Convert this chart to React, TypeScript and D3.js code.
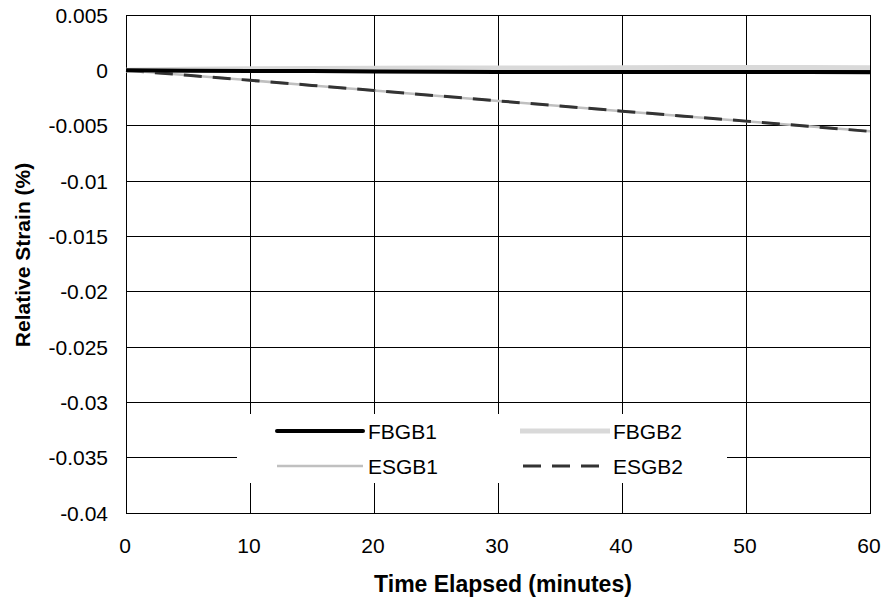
import * as d3 from "d3";
import { useEffect, useRef } from "react";

const minutes = [0, 5, 10, 15, 20, 25, 30, 35, 40, 45, 50, 55, 60];
const fbgb1 = [0, -0.00003, -0.00005, -0.00007, -0.0001, -0.00012, -0.00015, -0.00014, -0.00014, -0.00015, -0.00015, -0.00016, -0.00018];
const fbgb2 = [0, 0.0001, 0.00014, 0.00016, 0.00018, 0.0002, 0.00022, 0.00022, 0.00024, 0.00025, 0.00025, 0.00025, 0.00024];
const esgb1 = [0, -0.00045, -0.0009, -0.00137, -0.00183, -0.0023, -0.00277, -0.00323, -0.0037, -0.00415, -0.0046, -0.00505, -0.0055];
const esgb2 = [0, -0.00045, -0.0009, -0.00136, -0.00182, -0.00229, -0.00276, -0.00322, -0.00369, -0.00414, -0.00459, -0.00505, -0.00552];
const xTicks = [0, 10, 20, 30, 40, 50, 60];
const yTicks = [0.005, 0, -0.005, -0.01, -0.015, -0.02, -0.025, -0.03, -0.035, -0.04];

const series = [
  { name: "FBGB1", values: fbgb1, color: "#000000", width: 4, dash: null },
  { name: "FBGB2", values: fbgb2, color: "#d9d9d9", width: 5, dash: null },
  { name: "ESGB1", values: esgb1, color: "#c0c0c0", width: 2.5, dash: null },
  { name: "ESGB2", values: esgb2, color: "#333333", width: 3, dash: "18,11" },
];

function drawChart(container: HTMLElement) {
  const width = 888;
  const height = 602;
  const left = 126, right = 870, top = 15, bottom = 513;
  const font = "Liberation Sans, Arial, sans-serif";

  const svg = d3.select(container)
    .append("svg")
    .attr("width", width)
    .attr("height", height)
    .attr("style", "position:absolute;left:0;top:0;background:#fff")
    .attr("font-family", font);

  const x = d3.scaleLinear([0, 60], [left, right]);
  const y = d3.scaleLinear([-0.04, 0.005], [bottom, top]);

  // grid
  const grid = svg.append("g").attr("stroke", "#000").attr("stroke-width", 1).attr("shape-rendering", "crispEdges");
  grid.selectAll(".h").data(yTicks).join("line")
    .attr("x1", left).attr("x2", right)
    .attr("y1", d => y(d)).attr("y2", d => y(d));
  grid.selectAll(".v").data(xTicks).join("line")
    .attr("x1", d => x(d)).attr("x2", d => x(d))
    .attr("y1", top).attr("y2", bottom);

  // legend box covers the grid
  const legend = svg.append("g");
  legend.append("rect").attr("x", 237).attr("y", 414).attr("width", 490).attr("height", 69).attr("fill", "#fff");
  const legendPos = [
    { lx: 277, w: 86, tx: 368, ly: 431 },
    { lx: 520, w: 90, tx: 613, ly: 431 },
    { lx: 277, w: 86, tx: 368, ly: 466 },
    { lx: 523, w: 80, tx: 613, ly: 466 },
  ];
  series.forEach((s, i) => {
    const p = legendPos[i];
    legend.append("line")
      .attr("x1", p.lx).attr("x2", p.lx + p.w)
      .attr("y1", p.ly).attr("y2", p.ly)
      .attr("stroke", s.color).attr("stroke-width", s.width)
      .attr("stroke-linecap", i === 0 ? "round" : "butt")
      .attr("stroke-dasharray", s.dash);
    legend.append("text")
      .attr("x", p.tx).attr("y", p.ly + 8)
      .attr("font-size", 21).text(s.name);
  });

  // frame
  svg.append("rect").attr("x", left).attr("y", top)
    .attr("width", right - left).attr("height", bottom - top)
    .attr("fill", "none").attr("stroke", "#000").attr("shape-rendering", "crispEdges");

  // lines
  const line = d3.line<number>().x((_, i) => x(minutes[i])).y(d => y(d));
  const order = [2, 3, 1, 0];
  order.forEach(i => {
    const s = series[i];
    svg.append("path")
      .attr("d", line(s.values))
      .attr("fill", "none")
      .attr("stroke", s.color)
      .attr("stroke-width", s.width)
      .attr("stroke-dasharray", s.dash);
  });

  // tick labels
  svg.append("g").selectAll("text").data(yTicks).join("text")
    .attr("x", 108).attr("y", d => y(d) + 7.5)
    .attr("text-anchor", "end").attr("font-size", 21)
    .text(d => (d === 0 ? "0" : String(d)));
  svg.append("g").selectAll("text").data(xTicks).join("text")
    .attr("x", d => x(d) - 1).attr("y", bottom + 40)
    .attr("text-anchor", "middle").attr("font-size", 21)
    .text(d => String(d));

  // axis titles
  svg.append("text")
    .attr("x", 503).attr("y", 592)
    .attr("text-anchor", "middle").attr("font-size", 23).attr("font-weight", "bold")
    .text("Time Elapsed (minutes)");
  svg.append("text")
    .attr("transform", `translate(30, 255) rotate(-90)`)
    .attr("text-anchor", "middle").attr("font-size", 21).attr("font-weight", "bold")
    .text("Relative Strain (%)");
}

export default function App() {
  const domRef = useRef<HTMLDivElement>(null);
  useEffect(() => {
    if (domRef.current) {
      drawChart(domRef.current);
    }
    return () => {
      if (domRef.current) {
        d3.select(domRef.current).selectAll("svg").remove();
      }
    };
  }, [domRef]);
  return <div ref={domRef}></div>;
}
